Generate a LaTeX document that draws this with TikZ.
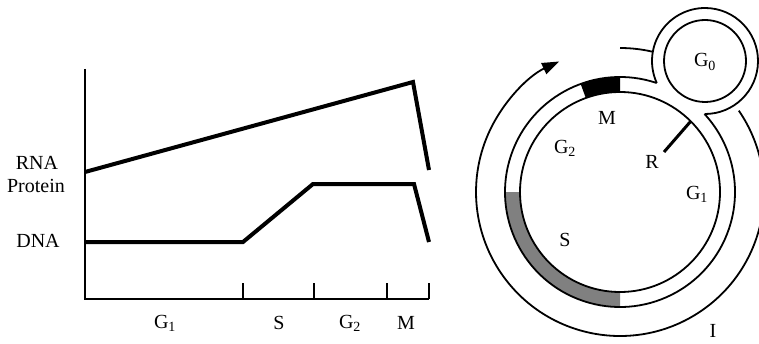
\documentclass[tikz,border=0pt]{standalone}
\usepackage{fontspec}
\setmainfont{Liberation Serif}
\usetikzlibrary{arrows.meta}
\definecolor{sband}{gray}{0.5}
\begin{document}
\begin{tikzpicture}[x=1pt,y=1pt,
  axis/.style={line width=2pt},
  curve/.style={line width=4pt, line join=miter},
  ring/.style={line width=1.8pt},
  lbl/.style={font=\fontsize{20}{22}\selectfont, inner sep=0pt}]
\useasboundingbox (0,0) rectangle (759,343);
% ---------- chart ----------
\coordinate (O) at (85,44);
\coordinate (Ytop) at (85,274);
\coordinate (Xend) at (429,44);
\draw[axis] (Ytop) -- (O) -- (Xend);
\foreach \x/\n in {243/a,314/b,387/c,429/d}{
  \coordinate (t\n0) at (\x,44);
  \coordinate (t\n1) at (\x,60);
  \draw[axis] (t\n0) -- (t\n1);
}
\coordinate (r0) at (85,171);
\coordinate (r1) at (413,261);
\coordinate (r2) at (429,173);
\draw[curve] (r0) -- (r1) -- (r2);
\coordinate (d0) at (85,101);
\coordinate (d1) at (243,101);
\coordinate (d2) at (313,159);
\coordinate (d3) at (414,159);
\coordinate (d4) at (429,101);
\draw[curve] (d0) -- (d1) -- (d2) -- (d3) -- (d4);
\node[lbl] (lrna) at (37,180) {RNA};
\node[lbl] (lprot) at (36,157) {Protein};
\node[lbl] (ldna) at (38,102) {DNA};
\node[lbl] (lg1) at (165,20) {G\textsubscript{1}};
\node[lbl] (ls) at (279,20) {S};
\node[lbl] (lg2) at (350,20) {G\textsubscript{2}};
\node[lbl] (lm) at (406,20) {M};
% ---------- cycle ----------
\coordinate (C) at (620,151);
\coordinate (G) at (705,282);
\fill[black] ([shift={(90:100)}]C) arc[start angle=90,end angle=110,radius=100]
  -- ([shift={(110:115)}]C) arc[start angle=110,end angle=90,radius=115] -- cycle;
\fill[sband] ([shift={(180:100)}]C) arc[start angle=180,end angle=270,radius=100]
  -- ([shift={(270:115)}]C) arc[start angle=270,end angle=180,radius=115] -- cycle;
\draw[ring] (C) circle[radius=100];
\draw[ring] ([shift={(71.4:115)}]C) arc[start angle=71.4,end angle=402.7,radius=115];
\draw[ring] ([shift={(-90.5:53)}]G) arc[start angle=-90.5,end angle=204.5,radius=53];
\draw[ring] (G) circle[radius=41];
\draw[ring,-{Triangle[length=17pt,width=12pt]}] ([shift={(34.4:144)}]C)
  arc[start angle=34.4,end angle=-245,radius=144];
\draw[ring] ([shift={(90:144)}]C) arc[start angle=90,end angle=76.9,radius=144];
\coordinate (Rs) at ([shift={(45:100)}]C);
\coordinate (Re) at (664,191);
\draw[line width=3pt] (Rs) -- (Re);
\node[lbl] (lg0) at (705,281) {G\textsubscript{0}};
\node[lbl] (lcm) at (607,225) {M};
\node[lbl] (lcg2) at (565,195) {G\textsubscript{2}};
\node[lbl] (lr) at (652,181) {R};
\node[lbl] (lcg1) at (697,149) {G\textsubscript{1}};
\node[lbl] (lcs) at (565,103) {S};
\node[lbl] (li) at (713,12) {I};
\end{tikzpicture}
\end{document}
